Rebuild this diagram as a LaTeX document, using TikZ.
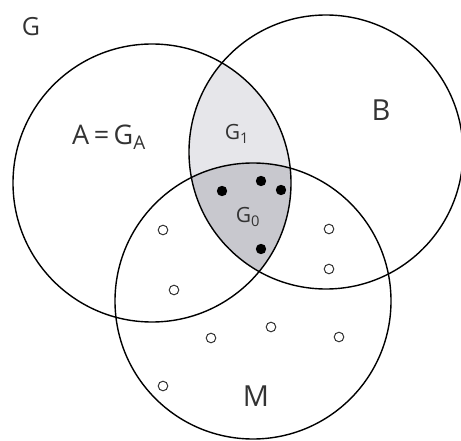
\documentclass[tikz,border=0pt]{standalone}
\usepackage{fontspec}
\setmainfont{Open Sans}
\definecolor{txtgray}{HTML}{333333}
\definecolor{lightreg}{HTML}{E6E6EA}
\definecolor{darkreg}{HTML}{C8C8CE}
\begin{document}
\begin{tikzpicture}[x=1pt,y=-1pt]
        \tikzset{
          setline/.style={line width=1.4pt},
          lbl/.style={text=txtgray, inner sep=0pt},
          fulldot/.style={fill=black},
          opendot/.style={draw=txtgray, line width=1pt, fill=white}
        }
        \useasboundingbox (0,0) rectangle (461,441);

        % Centros dos conjuntos
        \coordinate (cA) at (152,183);
        \coordinate (cB) at (326,152);
        \coordinate (cM) at (253,301);

        % Regioes sombreadas
        \begin{scope}
          \clip (cA) circle[radius=139pt];
          \fill[lightreg] (cB) circle[radius=137pt];
          \clip (cB) circle[radius=137pt];
          \fill[darkreg] (cM) circle[radius=138pt];
        \end{scope}

        % Circulos
        \draw[setline] (cA) circle[radius=139pt];
        \draw[setline] (cB) circle[radius=137pt];
        \draw[setline] (cM) circle[radius=138pt];

        % Rotulos
        \node[lbl, font=\fontsize{25}{25}\selectfont] (labG) at (31,27) {G};
        \node[lbl, font=\fontsize{27}{27}\selectfont] (labA) at (109,137) {A\,=\,G\textsubscript{A}};
        \node[lbl, font=\fontsize{21}{21}\selectfont] (labG1) at (237,134) {G\textsubscript{1}};
        \node[lbl, font=\fontsize{21}{21}\selectfont] (labG0) at (248,217) {G\textsubscript{0}};
        \node[lbl, font=\fontsize{29}{29}\selectfont] (labB) at (381,110) {B};
        \node[lbl, font=\fontsize{29}{29}\selectfont] (labM) at (256,396) {M};

        % Pontos em G0
        \foreach \p in {(222,191),(261,181),(281,190),(261,249)}
          \fill[fulldot] \p circle (5.2pt);

        % Pontos vazios em M
        \foreach \p in {(163,230),(174,290),(329,229),(329,269),(211,338),(271,327),(339,337),(163,386)}
          \draw[opendot] \p circle (4.8pt);
    \end{tikzpicture}
\end{document}
